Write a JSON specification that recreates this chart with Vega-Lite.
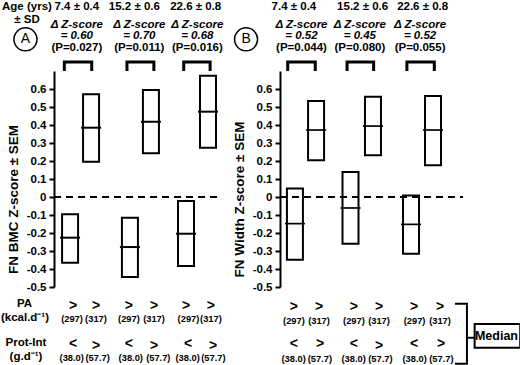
{
"$schema":"https://vega.github.io/schema/vega-lite/v6.json",
"background":"white",
"padding":{"left":0,"top":1,"right":0,"bottom":0},
"bounds":"flush",
"spacing":62,
"datasets":{
"bars":[
{"panel":"A","pos":0.98,"lo":-0.365,"hi":-0.096,"mean":-0.226},
{"panel":"A","pos":2.26,"lo":0.196,"hi":0.571,"mean":0.385},
{"panel":"A","pos":4.63,"lo":-0.444,"hi":-0.115,"mean":-0.278},
{"panel":"A","pos":5.91,"lo":0.243,"hi":0.594,"mean":0.418},
{"panel":"A","pos":8.05,"lo":-0.383,"hi":-0.022,"mean":-0.204},
{"panel":"A","pos":9.39,"lo":0.274,"hi":0.674,"mean":0.474},
{"panel":"B","pos":0.91,"lo":-0.349,"hi":0.047,"mean":-0.148},
{"panel":"B","pos":2.2,"lo":0.204,"hi":0.533,"mean":0.372},
{"panel":"B","pos":4.3,"lo":-0.26,"hi":0.139,"mean":-0.061},
{"panel":"B","pos":5.67,"lo":0.232,"hi":0.557,"mean":0.394},
{"panel":"B","pos":7.99,"lo":-0.315,"hi":0.009,"mean":-0.152},
{"panel":"B","pos":9.33,"lo":0.177,"hi":0.561,"mean":0.372}
],
"labels":[
{"panel":"A","kind":"hdr","x":-1.65,"y":1.053,"text":"Age (yrs)"},
{"panel":"A","kind":"hdr","x":-1.65,"y":0.983,"text":"± SD"},
{"panel":"A","kind":"hdr","x":1.39,"y":1.053,"text":"7.4 ± 0.4"},
{"panel":"A","kind":"hdr","x":4.9,"y":1.053,"text":"15.2 ± 0.6"},
{"panel":"A","kind":"hdr","x":8.64,"y":1.053,"text":"22.6 ± 0.8"},
{"panel":"A","kind":"dz","x":1.39,"y":0.957,"text":"Δ Z-score"},
{"panel":"A","kind":"dz","x":1.39,"y":0.892,"text":"= 0.60"},
{"panel":"A","kind":"dz","x":5.2,"y":0.957,"text":"Δ Z-score"},
{"panel":"A","kind":"dz","x":5.2,"y":0.892,"text":"= 0.70"},
{"panel":"A","kind":"dz","x":8.74,"y":0.957,"text":"Δ Z-score"},
{"panel":"A","kind":"dz","x":8.74,"y":0.892,"text":"= 0.68"},
{"panel":"A","kind":"p","x":1.39,"y":0.83,"text":"(P=0.027)"},
{"panel":"A","kind":"p","x":5.2,"y":0.83,"text":"(P=0.011)"},
{"panel":"A","kind":"p","x":8.74,"y":0.83,"text":"(P=0.016)"},
{"panel":"A","kind":"row","x":-1.8,"y":-0.594,"text":"PA"},
{"panel":"A","kind":"row","x":-1.77,"y":-0.672,"text":"(kcal.d⁻¹)"},
{"panel":"A","kind":"row","x":-1.71,"y":-0.811,"text":"Prot-Int"},
{"panel":"A","kind":"row","x":-1.71,"y":-0.889,"text":"(g.d⁻¹)"},
{"panel":"A","kind":"sym","x":1.16,"y":-0.606,"text":">"},
{"panel":"A","kind":"sym","x":2.56,"y":-0.606,"text":">"},
{"panel":"A","kind":"sym","x":4.57,"y":-0.606,"text":">"},
{"panel":"A","kind":"sym","x":6.1,"y":-0.606,"text":">"},
{"panel":"A","kind":"sym","x":8.05,"y":-0.606,"text":">"},
{"panel":"A","kind":"sym","x":9.57,"y":-0.606,"text":">"},
{"panel":"A","kind":"sym","x":1.16,"y":-0.814,"text":"<"},
{"panel":"A","kind":"sym","x":2.56,"y":-0.828,"text":">"},
{"panel":"A","kind":"sym","x":4.57,"y":-0.814,"text":"<"},
{"panel":"A","kind":"sym","x":6.1,"y":-0.828,"text":">"},
{"panel":"A","kind":"sym","x":8.17,"y":-0.814,"text":"<"},
{"panel":"A","kind":"sym","x":9.7,"y":-0.828,"text":">"},
{"panel":"A","kind":"num","x":1.1,"y":-0.678,"text":"(297)"},
{"panel":"A","kind":"num","x":2.56,"y":-0.678,"text":"(317)"},
{"panel":"A","kind":"num","x":4.57,"y":-0.678,"text":"(297)"},
{"panel":"A","kind":"num","x":6.1,"y":-0.678,"text":"(317)"},
{"panel":"A","kind":"num","x":8.2,"y":-0.678,"text":"(297)"},
{"panel":"A","kind":"num","x":9.57,"y":-0.678,"text":"(317)"},
{"panel":"A","kind":"num","x":1.08,"y":-0.892,"text":"(38.0)"},
{"panel":"A","kind":"num","x":2.66,"y":-0.892,"text":"(57.7)"},
{"panel":"A","kind":"num","x":4.68,"y":-0.892,"text":"(38.0)"},
{"panel":"A","kind":"num","x":6.36,"y":-0.892,"text":"(57.7)"},
{"panel":"A","kind":"num","x":8.15,"y":-0.892,"text":"(38.0)"},
{"panel":"A","kind":"num","x":9.72,"y":-0.892,"text":"(57.7)"},
{"panel":"A","kind":"circ","x":-1.74,"y":0.876,"text":"A"},
{"panel":"B","kind":"hdr","x":0.85,"y":1.053,"text":"7.4 ± 0.4"},
{"panel":"B","kind":"hdr","x":5.04,"y":1.053,"text":"15.2 ± 0.6"},
{"panel":"B","kind":"hdr","x":8.7,"y":1.053,"text":"22.6 ± 0.8"},
{"panel":"B","kind":"dz","x":1.31,"y":0.957,"text":"Δ Z-score"},
{"panel":"B","kind":"dz","x":1.31,"y":0.892,"text":"= 0.52"},
{"panel":"B","kind":"dz","x":4.87,"y":0.957,"text":"Δ Z-score"},
{"panel":"B","kind":"dz","x":4.87,"y":0.892,"text":"= 0.45"},
{"panel":"B","kind":"dz","x":8.54,"y":0.957,"text":"Δ Z-score"},
{"panel":"B","kind":"dz","x":8.54,"y":0.892,"text":"= 0.52"},
{"panel":"B","kind":"p","x":1.31,"y":0.83,"text":"(P=0.044)"},
{"panel":"B","kind":"p","x":4.87,"y":0.83,"text":"(P=0.080)"},
{"panel":"B","kind":"p","x":8.54,"y":0.83,"text":"(P=0.055)"},
{"panel":"B","kind":"sym","x":0.85,"y":-0.611,"text":">"},
{"panel":"B","kind":"sym","x":2.38,"y":-0.611,"text":">"},
{"panel":"B","kind":"sym","x":4.51,"y":-0.611,"text":">"},
{"panel":"B","kind":"sym","x":6.04,"y":-0.611,"text":">"},
{"panel":"B","kind":"sym","x":8.17,"y":-0.611,"text":">"},
{"panel":"B","kind":"sym","x":9.76,"y":-0.611,"text":">"},
{"panel":"B","kind":"sym","x":0.85,"y":-0.817,"text":"<"},
{"panel":"B","kind":"sym","x":2.44,"y":-0.817,"text":">"},
{"panel":"B","kind":"sym","x":4.51,"y":-0.817,"text":"<"},
{"panel":"B","kind":"sym","x":6.04,"y":-0.828,"text":">"},
{"panel":"B","kind":"sym","x":8.17,"y":-0.817,"text":"<"},
{"panel":"B","kind":"sym","x":9.82,"y":-0.817,"text":">"},
{"panel":"B","kind":"num","x":0.85,"y":-0.689,"text":"(297)"},
{"panel":"B","kind":"num","x":2.38,"y":-0.689,"text":"(317)"},
{"panel":"B","kind":"num","x":4.51,"y":-0.689,"text":"(297)"},
{"panel":"B","kind":"num","x":6.04,"y":-0.689,"text":"(317)"},
{"panel":"B","kind":"num","x":8.21,"y":-0.689,"text":"(297)"},
{"panel":"B","kind":"num","x":9.76,"y":-0.689,"text":"(317)"},
{"panel":"B","kind":"num","x":0.83,"y":-0.898,"text":"(38.0)"},
{"panel":"B","kind":"num","x":2.43,"y":-0.898,"text":"(57.7)"},
{"panel":"B","kind":"num","x":4.49,"y":-0.898,"text":"(38.0)"},
{"panel":"B","kind":"num","x":6.12,"y":-0.898,"text":"(57.7)"},
{"panel":"B","kind":"num","x":8.21,"y":-0.898,"text":"(38.0)"},
{"panel":"B","kind":"num","x":9.84,"y":-0.898,"text":"(57.7)"},
{"panel":"B","kind":"circ","x":-2.07,"y":0.876,"text":"B"},
{"panel":"B","kind":"median","x":13.2,"y":-0.772,"text":"Median"}
],
"lines":[
{"panel":"A","kind":"bracket","grp":"A1","ord":1,"x":0.63,"y":0.70},
{"panel":"A","kind":"bracket","grp":"A1","ord":2,"x":0.63,"y":0.75},
{"panel":"A","kind":"bracket","grp":"A1","ord":3,"x":2.3,"y":0.75},
{"panel":"A","kind":"bracket","grp":"A1","ord":4,"x":2.3,"y":0.70},
{"panel":"A","kind":"bracket","grp":"A2","ord":1,"x":4.45,"y":0.70},
{"panel":"A","kind":"bracket","grp":"A2","ord":2,"x":4.45,"y":0.75},
{"panel":"A","kind":"bracket","grp":"A2","ord":3,"x":6.09,"y":0.75},
{"panel":"A","kind":"bracket","grp":"A2","ord":4,"x":6.09,"y":0.70},
{"panel":"A","kind":"bracket","grp":"A3","ord":1,"x":7.91,"y":0.70},
{"panel":"A","kind":"bracket","grp":"A3","ord":2,"x":7.91,"y":0.75},
{"panel":"A","kind":"bracket","grp":"A3","ord":3,"x":9.52,"y":0.75},
{"panel":"A","kind":"bracket","grp":"A3","ord":4,"x":9.52,"y":0.70},
{"panel":"B","kind":"bracket","grp":"B1","ord":1,"x":0.47,"y":0.70},
{"panel":"B","kind":"bracket","grp":"B1","ord":2,"x":0.47,"y":0.75},
{"panel":"B","kind":"bracket","grp":"B1","ord":3,"x":2.15,"y":0.75},
{"panel":"B","kind":"bracket","grp":"B1","ord":4,"x":2.15,"y":0.70},
{"panel":"B","kind":"bracket","grp":"B2","ord":1,"x":4.09,"y":0.70},
{"panel":"B","kind":"bracket","grp":"B2","ord":2,"x":4.09,"y":0.75},
{"panel":"B","kind":"bracket","grp":"B2","ord":3,"x":5.71,"y":0.75},
{"panel":"B","kind":"bracket","grp":"B2","ord":4,"x":5.71,"y":0.70},
{"panel":"B","kind":"bracket","grp":"B3","ord":1,"x":7.74,"y":0.70},
{"panel":"B","kind":"bracket","grp":"B3","ord":2,"x":7.74,"y":0.75},
{"panel":"B","kind":"bracket","grp":"B3","ord":3,"x":9.41,"y":0.75},
{"panel":"B","kind":"bracket","grp":"B3","ord":4,"x":9.41,"y":0.70},
{"panel":"B","kind":"median","grp":"M1","ord":1,"x":10.67,"y":-0.593},
{"panel":"B","kind":"median","grp":"M1","ord":2,"x":11.4,"y":-0.593},
{"panel":"B","kind":"median","grp":"M1","ord":3,"x":11.4,"y":-0.926},
{"panel":"B","kind":"median","grp":"M1","ord":4,"x":10.67,"y":-0.926},
{"panel":"B","kind":"median","grp":"M2","ord":1,"x":11.4,"y":-0.782},
{"panel":"B","kind":"median","grp":"M2","ord":2,"x":11.87,"y":-0.782}
],
"boxes":[{"panel":"B","x1":11.87,"x2":14.65,"y1":-0.706,"y2":-0.837}],
"ticksY":[{"t":-0.5},{"t":-0.4},{"t":-0.3},{"t":-0.2},{"t":-0.1},{"t":0},{"t":0.1},{"t":0.2},{"t":0.3},{"t":0.4},{"t":0.5},{"t":0.6},{"t":0.7}]
},
"hconcat":[
{
"width":164,"height":216,
"resolve":{"axis":{"y":"independent"}},
"layer":[
{"data":{"name":"ticksY"},
 "mark":{"type":"point","opacity":0,"size":1},
 "encoding":{"x":{"datum":0,"type":"quantitative","scale":{"domain":[0,10],"nice":false,"zero":false,"padding":0},"axis":null},
  "y":{"field":"t","type":"quantitative","scale":{"domain":[-0.5,0.7],"nice":false,"zero":false,"padding":0},"axis":{"title":"FN BMC Z-score  ±  SEM","titleY":128,"domain":true,"ticks":true,"labelOverlap":false,"format":"~g","values":[-0.5,-0.4,-0.3,-0.2,-0.1,0,0.1,0.2,0.3,0.4,0.5,0.6]}}}},
{"data":{"name":"bars"},"transform":[{"filter":"datum.panel == 'A'"}],
 "mark":{"type":"bar","orient":"vertical","size":16,"fill":"transparent","stroke":"black","strokeWidth":2},
 "encoding":{"x":{"field":"pos","type":"quantitative","axis":null},
  "y":{"field":"hi","type":"quantitative","axis":null},
  "y2":{"field":"lo"}}},
{"data":{"values":[{}]},"mark":{"type":"rule","strokeDash":[7,5],"strokeWidth":2,"color":"black"},
 "encoding":{"x":{"datum":0,"type":"quantitative","axis":null},"x2":{"datum":10},"y":{"datum":0,"type":"quantitative","axis":null}}},
{"data":{"name":"bars"},"transform":[{"filter":"datum.panel == 'A'"}],
 "mark":{"type":"tick","orient":"horizontal","size":20,"thickness":2,"color":"black","opacity":1},
 "encoding":{"x":{"field":"pos","type":"quantitative","axis":null},
  "y":{"field":"mean","type":"quantitative","axis":null}}},
{"data":{"name":"lines"},"transform":[{"filter":"datum.panel == 'A' && datum.kind == 'bracket'"}],
 "mark":{"type":"line","color":"black","strokeWidth":3,"strokeJoin":"miter"},
 "encoding":{"x":{"field":"x","type":"quantitative","axis":null},
  "y":{"field":"y","type":"quantitative","axis":null},
  "detail":{"field":"grp"},"order":{"field":"ord"}}},
{"data":{"name":"labels"},"transform":[{"filter":"datum.panel == 'A' && datum.kind == 'circ'"}],
 "mark":{"type":"point","shape":"circle","size":530,"filled":false,"stroke":"black","strokeWidth":1.5,"opacity":1},
 "encoding":{"x":{"field":"x","type":"quantitative","axis":null},
  "y":{"field":"y","type":"quantitative","axis":null}}},
{"data":{"name":"labels"},"transform":[{"filter":"datum.panel == 'A' && datum.kind == 'circ'"}],
 "mark":{"type":"text","fontSize":14,"fontWeight":"normal"},
 "encoding":{"x":{"field":"x","type":"quantitative","axis":null},"y":{"field":"y","type":"quantitative","axis":null},"text":{"field":"text"}}},
{"data":{"name":"labels"},"transform":[{"filter":"datum.panel == 'A' && (datum.kind == 'hdr' || datum.kind == 'row')"}],
 "mark":{"type":"text","fontSize":11.5},
 "encoding":{"x":{"field":"x","type":"quantitative","axis":null},"y":{"field":"y","type":"quantitative","axis":null},"text":{"field":"text"}}},
{"data":{"name":"labels"},"transform":[{"filter":"datum.panel == 'A' && datum.kind == 'dz'"}],
 "mark":{"type":"text","fontSize":11.5,"fontStyle":"italic"},
 "encoding":{"x":{"field":"x","type":"quantitative","axis":null},"y":{"field":"y","type":"quantitative","axis":null},"text":{"field":"text"}}},
{"data":{"name":"labels"},"transform":[{"filter":"datum.panel == 'A' && datum.kind == 'p'"}],
 "mark":{"type":"text","fontSize":11.5},
 "encoding":{"x":{"field":"x","type":"quantitative","axis":null},"y":{"field":"y","type":"quantitative","axis":null},"text":{"field":"text"}}},
{"data":{"name":"labels"},"transform":[{"filter":"datum.panel == 'A' && datum.kind == 'sym'"}],
 "mark":{"type":"text","fontSize":14},
 "encoding":{"x":{"field":"x","type":"quantitative","axis":null},"y":{"field":"y","type":"quantitative","axis":null},"text":{"field":"text"}}},
{"data":{"name":"labels"},"transform":[{"filter":"datum.panel == 'A' && datum.kind == 'num'"}],
 "mark":{"type":"text","fontSize":9.3},
 "encoding":{"x":{"field":"x","type":"quantitative","axis":null},"y":{"field":"y","type":"quantitative","axis":null},"text":{"field":"text"}}}
]
},
{
"width":183,"height":216,
"resolve":{"axis":{"y":"independent"}},
"layer":[
{"data":{"name":"ticksY"},
 "mark":{"type":"point","opacity":0,"size":1},
 "encoding":{"x":{"datum":0,"type":"quantitative","scale":{"domain":[0,11.16],"nice":false,"zero":false,"padding":0},"axis":null},
  "y":{"field":"t","type":"quantitative","scale":{"domain":[-0.5,0.7],"nice":false,"zero":false,"padding":0},"axis":{"title":"FN Width Z-score  ±  SEM","titleY":128,"domain":true,"ticks":true,"labelOverlap":false,"format":"~g","values":[-0.5,-0.4,-0.3,-0.2,-0.1,0,0.1,0.2,0.3,0.4,0.5,0.6]}}}},
{"data":{"name":"bars"},"transform":[{"filter":"datum.panel == 'B'"}],
 "mark":{"type":"bar","orient":"vertical","size":16,"fill":"transparent","stroke":"black","strokeWidth":2},
 "encoding":{"x":{"field":"pos","type":"quantitative","axis":null},
  "y":{"field":"hi","type":"quantitative","axis":null},
  "y2":{"field":"lo"}}},
{"data":{"values":[{}]},"mark":{"type":"rule","strokeDash":[7,5],"strokeWidth":2,"color":"black"},
 "encoding":{"x":{"datum":0,"type":"quantitative","axis":null},"x2":{"datum":11.16},"y":{"datum":0,"type":"quantitative","axis":null}}},
{"data":{"name":"bars"},"transform":[{"filter":"datum.panel == 'B'"}],
 "mark":{"type":"tick","orient":"horizontal","size":20,"thickness":1.7,"color":"black","opacity":1},
 "encoding":{"x":{"field":"pos","type":"quantitative","axis":null},
  "y":{"field":"mean","type":"quantitative","axis":null}}},
{"data":{"name":"lines"},"transform":[{"filter":"datum.panel == 'B' && datum.kind == 'bracket'"}],
 "mark":{"type":"line","color":"black","strokeWidth":3,"strokeJoin":"miter"},
 "encoding":{"x":{"field":"x","type":"quantitative","axis":null},
  "y":{"field":"y","type":"quantitative","axis":null},
  "detail":{"field":"grp"},"order":{"field":"ord"}}},
{"data":{"name":"lines"},"transform":[{"filter":"datum.panel == 'B' && datum.kind == 'median'"}],
 "mark":{"type":"line","color":"black","strokeWidth":2,"strokeJoin":"miter"},
 "encoding":{"x":{"field":"x","type":"quantitative","axis":null},"y":{"field":"y","type":"quantitative","axis":null},
  "detail":{"field":"grp"},"order":{"field":"ord"}}},
{"data":{"name":"boxes"},
 "mark":{"type":"rect","fill":"white","stroke":"black","strokeWidth":2},
 "encoding":{"x":{"field":"x1","type":"quantitative","axis":null},"x2":{"field":"x2"},"y":{"field":"y1","type":"quantitative","axis":null},"y2":{"field":"y2"}}},
{"data":{"name":"labels"},"transform":[{"filter":"datum.panel == 'B' && datum.kind == 'median'"}],
 "mark":{"type":"text","fontSize":12.5},
 "encoding":{"x":{"field":"x","type":"quantitative","axis":null},"y":{"field":"y","type":"quantitative","axis":null},"text":{"field":"text"}}},
{"data":{"name":"labels"},"transform":[{"filter":"datum.panel == 'B' && datum.kind == 'circ'"}],
 "mark":{"type":"point","shape":"circle","size":530,"filled":false,"stroke":"black","strokeWidth":1.5,"opacity":1},
 "encoding":{"x":{"field":"x","type":"quantitative","axis":null},"y":{"field":"y","type":"quantitative","axis":null}}},
{"data":{"name":"labels"},"transform":[{"filter":"datum.panel == 'B' && datum.kind == 'circ'"}],
 "mark":{"type":"text","fontSize":14,"fontWeight":"normal"},
 "encoding":{"x":{"field":"x","type":"quantitative","axis":null},"y":{"field":"y","type":"quantitative","axis":null},"text":{"field":"text"}}},
{"data":{"name":"labels"},"transform":[{"filter":"datum.panel == 'B' && datum.kind == 'hdr'"}],
 "mark":{"type":"text","fontSize":11.5},
 "encoding":{"x":{"field":"x","type":"quantitative","axis":null},"y":{"field":"y","type":"quantitative","axis":null},"text":{"field":"text"}}},
{"data":{"name":"labels"},"transform":[{"filter":"datum.panel == 'B' && datum.kind == 'dz'"}],
 "mark":{"type":"text","fontSize":11.5,"fontStyle":"italic"},
 "encoding":{"x":{"field":"x","type":"quantitative","axis":null},"y":{"field":"y","type":"quantitative","axis":null},"text":{"field":"text"}}},
{"data":{"name":"labels"},"transform":[{"filter":"datum.panel == 'B' && datum.kind == 'p'"}],
 "mark":{"type":"text","fontSize":11.5},
 "encoding":{"x":{"field":"x","type":"quantitative","axis":null},"y":{"field":"y","type":"quantitative","axis":null},"text":{"field":"text"}}},
{"data":{"name":"labels"},"transform":[{"filter":"datum.panel == 'B' && datum.kind == 'sym'"}],
 "mark":{"type":"text","fontSize":14},
 "encoding":{"x":{"field":"x","type":"quantitative","axis":null},"y":{"field":"y","type":"quantitative","axis":null},"text":{"field":"text"}}},
{"data":{"name":"labels"},"transform":[{"filter":"datum.panel == 'B' && datum.kind == 'num'"}],
 "mark":{"type":"text","fontSize":9.3},
 "encoding":{"x":{"field":"x","type":"quantitative","axis":null},"y":{"field":"y","type":"quantitative","axis":null},"text":{"field":"text"}}}
]
}
],
"config":{
 "locale":{"number":{"decimal":".","thousands":",","grouping":[3],"currency":["$",""],"minus":"-"}},
 "view":{"stroke":null},
 "font":"Liberation Sans",
 "text":{"font":"Liberation Sans","fontWeight":"bold","color":"black","align":"center","baseline":"middle"},
 "axisY":{"domain":true,"domainColor":"black","domainWidth":2,"tickColor":"black","tickWidth":2,"tickSize":5,"labelPadding":3,"labelOverlap":false,"labelFont":"Liberation Sans","labelFontSize":11.5,"labelFontWeight":"bold","labelColor":"black","titleFont":"Liberation Sans","titleFontSize":13.5,"titleFontWeight":"bold","titleColor":"black","titlePadding":6,"grid":false}
}
}
